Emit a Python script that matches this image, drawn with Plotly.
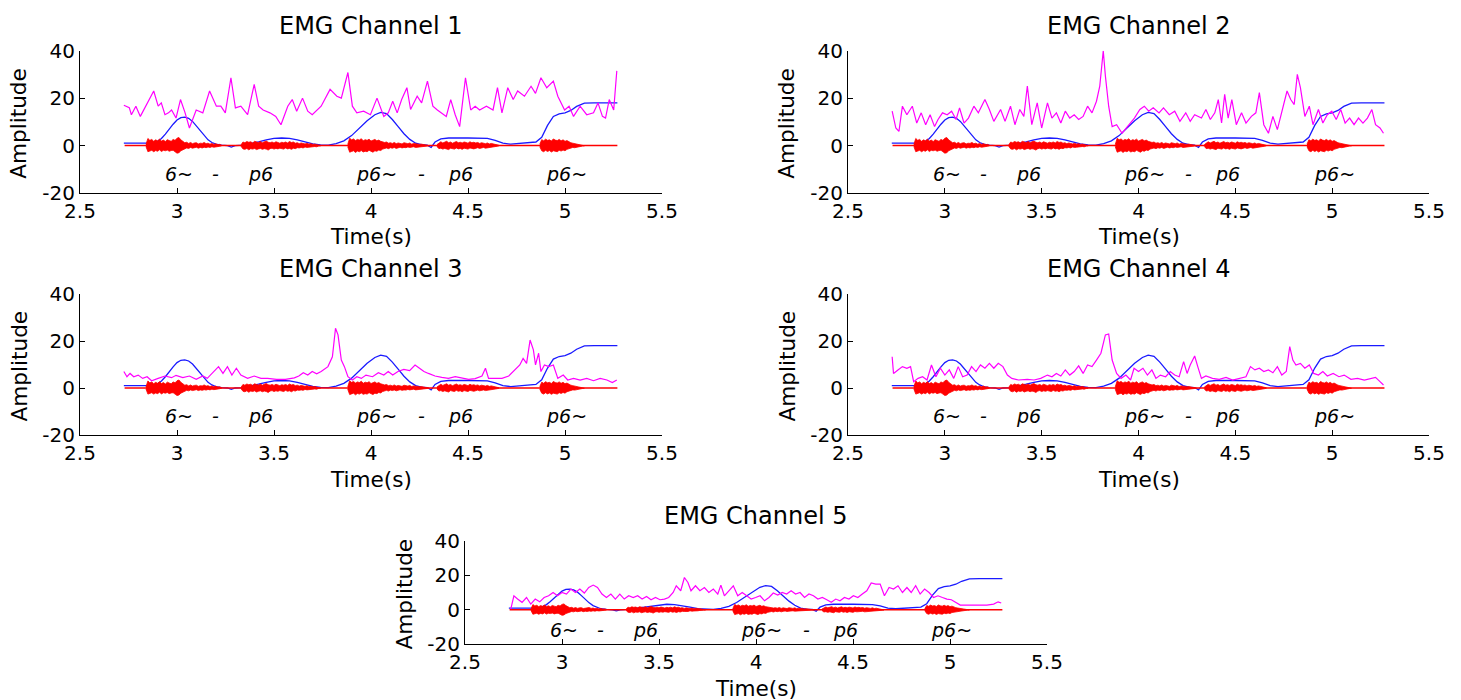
import plotly.graph_objects as go

# ---------------- data ----------------
channel_titles = ["EMG Channel 1", "EMG Channel 2", "EMG Channel 3", "EMG Channel 4", "EMG Channel 5"]
x_ticks = [2.5, 3, 3.5, 4, 4.5, 5, 5.5]
x_ticklabels = ["2.5", "3", "3.5", "4", "4.5", "5", "5.5"]
y_ticks = [-20, 0, 20, 40]
y_ticklabels = ["-20", "0", "20", "40"]

# magenta traces (time, amplitude) per channel
mag_t1 = [2.726,2.754,2.765,2.788,2.811,2.846,2.880,2.903,2.919,2.938,
          2.956,2.972,2.995,3.018,3.041,3.064,3.099,3.133,3.168,3.203,
          3.226,3.249,3.278,3.301,3.329,3.364,3.398,3.421,3.444,3.479,
          3.509,3.536,3.571,3.594,3.617,3.647,3.674,3.697,3.720,3.743,
          3.789,3.824,3.847,3.881,3.904,3.927,3.962,3.997,4.031,4.066,
          4.089,4.112,4.135,4.158,4.185,4.204,4.238,4.261,4.291,4.319,
          4.342,4.365,4.388,4.411,4.434,4.457,4.487,4.514,4.537,4.560,
          4.595,4.629,4.652,4.675,4.705,4.733,4.756,4.791,4.825,4.848,
          4.876,4.906,4.940,4.963,4.998,5.021,5.044,5.078,5.112,5.147,
          5.170,5.193,5.209,5.228,5.251,5.267]
mag_y1 = [17,16,13,16.6,12.3,18,23,16.6,18,13,
          13.8,15,11.6,19.4,14,7.4,15,13.8,23,16.6,
          16.6,13.8,28.6,15.9,16.6,13,25.8,16.6,15,13.8,
          12.3,8.8,16.6,19.4,14.5,20,14.5,13,15,16.6,
          23.7,20.8,20,30.8,16.6,13.8,14.5,13,20,12.3,
          13.8,18.7,13.8,19.4,24.4,15.2,20.8,18,27.2,16.6,
          15,13.8,12.3,19.4,13,8,28.6,15,16.6,15,
          16.6,15,24.4,13.8,24.4,19.4,23,20.8,25,22,
          28.6,24.4,27.2,20.8,15,16.6,12.3,16.6,13,13.8,
          18,12.3,11.6,19.4,15,31.5]

mag_t2 = [2.728,2.747,2.763,2.781,2.804,2.832,2.855,2.878,2.901,2.924,
          2.947,2.965,2.988,3.012,3.035,3.058,3.076,3.099,3.122,3.150,
          3.173,3.207,3.230,3.253,3.288,3.311,3.339,3.362,3.387,3.408,
          3.426,3.449,3.477,3.500,3.530,3.553,3.576,3.599,3.622,3.645,
          3.668,3.691,3.714,3.737,3.760,3.783,3.800,3.818,3.829,3.846,
          3.864,3.887,3.915,3.945,3.979,4.007,4.030,4.053,4.076,4.106,
          4.129,4.159,4.187,4.214,4.244,4.267,4.290,4.325,4.348,4.371,
          4.394,4.412,4.429,4.445,4.463,4.482,4.505,4.532,4.555,4.583,
          4.606,4.624,4.647,4.671,4.694,4.717,4.744,4.767,4.786,4.804,
          4.820,4.836,4.859,4.882,4.901,4.929,4.952,4.975,4.998,5.021,
          5.044,5.067,5.090,5.113,5.136,5.159,5.182,5.205,5.224,5.247,
          5.265]
mag_y2 = [14.5,7.4,6,16.6,13,16.6,9.5,13.8,8.8,13,
          8,11,13.8,13,14.5,11,15.9,9.5,11.6,16.6,
          13.8,19.4,15.2,10.2,15.2,10.2,16.6,8.8,15.2,12.3,
          25.1,8.8,18,7.4,18,11.6,13.8,9.5,14.5,11.6,
          13,11,12.3,16.6,13.8,18.7,25.1,40,29.4,16.6,
          8,8.8,5.2,8,11.6,15.2,16.6,14.5,15.9,13.8,
          15.9,13,14.5,10.2,13.8,10.2,13,11.6,15.2,11,
          13.8,19.4,9.5,21.6,11.6,19.4,8.8,13.8,9.5,12.3,
          13.8,22.3,8.8,5.2,12.3,6.7,15.2,23,19.4,17.3,
          30,24.4,12.3,16.6,8.8,15.2,9.5,13,14.5,11,
          15.2,9.5,11.6,8.8,11.6,9.5,11.6,15.2,8.8,7.4,
          5.2]

mag_t3 = [2.726,2.742,2.758,2.777,2.800,2.823,2.846,2.869,2.903,2.938,
          2.972,2.995,3.030,3.064,3.099,3.133,3.156,3.191,3.214,3.237,
          3.260,3.283,3.306,3.329,3.364,3.398,3.433,3.467,3.513,3.559,
          3.605,3.628,3.651,3.674,3.697,3.720,3.743,3.778,3.801,3.817,
          3.830,3.847,3.863,3.881,3.904,3.927,3.950,3.974,4.008,4.038,
          4.066,4.089,4.112,4.139,4.169,4.199,4.227,4.250,4.273,4.296,
          4.330,4.365,4.399,4.434,4.468,4.503,4.537,4.572,4.590,4.606,
          4.641,4.675,4.710,4.744,4.767,4.784,4.802,4.820,4.837,4.848,
          4.864,4.876,4.894,4.917,4.940,4.963,4.991,5.014,5.044,5.078,
          5.112,5.147,5.181,5.216,5.244,5.267]
mag_y3 = [7,4.8,6.2,4.8,5.5,4.1,4.8,3.1,4.1,5.1,
          4.4,5.4,4.4,5.1,3.7,5.1,4.1,7,9.1,6.2,
          9.1,5.5,8.4,5.5,4.1,5.1,4.1,4.1,3.7,3.7,
          4.3,5.1,6.5,5.5,7,6,7,9.1,13.3,25.4,
          22.6,11.9,9.1,4.8,3.4,4.8,4.1,5.5,4.8,6.5,
          5.5,7,5.5,7,7.9,7.4,9.8,8.4,7,6.2,
          5.1,4.5,4.1,4.8,4.1,3.7,4,5.1,8.4,4.1,
          4.1,4.1,5.1,7.7,9.8,12.6,10.5,20.4,16.2,9.8,
          14.8,7,9.8,9.1,9.8,4.1,5.5,3.4,4.1,3.4,
          4.1,3.1,4.1,3.4,2.3,3.4]

mag_t4 = [2.728,2.735,2.758,2.781,2.804,2.823,2.839,2.862,2.885,2.908,
          2.931,2.954,2.977,3.000,3.023,3.046,3.069,3.092,3.115,3.138,
          3.161,3.184,3.207,3.230,3.253,3.276,3.300,3.323,3.346,3.380,
          3.426,3.461,3.495,3.530,3.553,3.576,3.599,3.622,3.645,3.668,
          3.691,3.714,3.737,3.760,3.783,3.806,3.829,3.846,3.864,3.887,
          3.910,3.935,3.959,3.977,4.000,4.023,4.046,4.069,4.090,4.113,
          4.140,4.164,4.187,4.210,4.233,4.251,4.267,4.290,4.306,4.325,
          4.348,4.382,4.417,4.452,4.486,4.521,4.555,4.578,4.601,4.624,
          4.647,4.671,4.694,4.717,4.740,4.763,4.781,4.797,4.813,4.836,
          4.859,4.882,4.905,4.929,4.952,4.975,5.005,5.035,5.062,5.097,
          5.131,5.166,5.200,5.224,5.247,5.265]
mag_y4 = [13.3,6.2,7.7,9.1,8.4,9.1,2.7,4.1,4.8,3.4,
          9.8,4.8,8.4,5.5,7.7,4.1,9.1,4.8,5.5,9.1,
          7,9.8,8.4,10.5,8.4,10.5,9.1,5.5,4.1,3.4,
          3.7,3.4,4.1,5.5,4.8,6.2,5.1,7.7,5.5,7,
          9.4,6.2,9.8,9.1,11.9,14.8,22.6,23,11.9,6.2,
          4.1,5.5,3.4,8.4,7,8.4,5.5,7.7,4.1,5.5,
          4.8,7,5.5,4.8,11.2,6.2,9.8,13.6,9.1,4.1,
          5.1,4.1,3.7,4.5,3.4,4.1,4.8,9.1,7.7,8.4,
          7,7.7,6.5,9.1,5.5,7,17.6,11.9,9.8,10.5,
          8.4,9.8,6.2,5.5,7,5.1,6.2,4.8,5.5,3.7,
          4.1,3.4,4.1,4.5,2.7,1.3]

mag_t5 = [2.736,2.752,2.771,2.794,2.817,2.839,2.862,2.885,2.908,2.931,
          2.954,2.977,3.000,3.023,3.046,3.069,3.092,3.115,3.138,3.161,
          3.183,3.206,3.229,3.252,3.275,3.298,3.321,3.344,3.367,3.390,
          3.413,3.436,3.459,3.482,3.505,3.528,3.550,3.573,3.589,3.612,
          3.631,3.649,3.665,3.688,3.711,3.734,3.757,3.780,3.803,3.819,
          3.837,3.860,3.883,3.906,3.929,3.952,3.975,3.998,4.021,4.044,
          4.067,4.089,4.112,4.135,4.158,4.181,4.204,4.227,4.250,4.273,
          4.296,4.319,4.342,4.365,4.388,4.411,4.433,4.456,4.479,4.502,
          4.525,4.548,4.571,4.594,4.617,4.640,4.662,4.686,4.709,4.732,
          4.755,4.778,4.800,4.823,4.846,4.869,4.892,4.915,4.938,4.961,
          4.984,5.007,5.030,5.053,5.099,5.145,5.190,5.225,5.248,5.264]
mag_y5 = [0.4,8.1,6.2,4.3,7.1,3.3,6.2,4.6,7.1,8.1,
          10,8.1,10,9.1,12,10,12,9.7,12.9,14.3,
          12.9,9.1,7.1,9.1,6.2,9.1,6.2,8.1,7.1,8.1,
          6.2,7.7,5.8,7.1,5.8,6.2,7.1,10,13.9,11,
          18.7,15.8,11,13.9,11,12.9,10,12,9.1,14.3,
          8.1,11,13.9,8.1,10,8.1,6.2,7.1,8.1,5.2,
          7.1,9.7,8.5,10,9.1,11,9.1,10,7.1,9.1,
          8.1,6.2,7.1,5.8,4.3,6.2,5.2,7.1,6.2,8.1,
          7.1,9.1,11,15.5,14.9,14.9,8.1,12.9,12,13.9,
          10,12.9,10,13.9,9.1,12,10,7.1,8.1,7.1,
          6.2,5.8,4.3,2.7,2.7,2.7,2.7,3.3,4.6,3.9]

magenta_t = [mag_t1, mag_t2, mag_t3, mag_t4, mag_t5]
magenta_y = [mag_y1, mag_y2, mag_y3, mag_y4, mag_y5]

# blue smoothed envelope (same in every channel)
blue_t = [2.726,2.88,2.90,2.92,2.94,2.96,2.98,3.00,3.02,3.04,
          3.06,3.08,3.10,3.12,3.14,3.16,3.18,3.20,3.23,3.26,
          3.28,3.30,3.34,3.38,3.42,3.46,3.50,3.54,3.58,3.62,
          3.66,3.70,3.74,3.78,3.82,3.86,3.90,3.94,3.98,4.02,
          4.05,4.08,4.11,4.14,4.17,4.20,4.23,4.26,4.29,4.31,
          4.33,4.36,4.40,4.50,4.56,4.60,4.64,4.68,4.72,4.80,
          4.85,4.88,4.91,4.94,4.97,5.00,5.03,5.06,5.08,5.10,
          5.15,5.27]
blue_y = [1.0,1.0,1.8,3.0,4.8,7.0,9.0,10.8,11.8,12.0,
          11.5,10.2,8.2,6.0,4.0,2.4,1.3,0.6,0.2,0.0,
          -0.6,0.0,0.2,0.8,1.6,2.4,3.0,3.2,3.0,2.4,
          1.5,0.7,0.3,0.2,0.8,2.0,4.2,7.2,10.5,13.0,
          14.0,13.5,11.0,8.0,5.0,2.6,1.0,0.4,0.2,-0.8,
          1.5,2.8,3.2,3.2,3.2,3.0,2.2,1.0,0.6,1.0,
          1.5,3.5,8.5,12.3,13.4,13.8,14.8,16.5,17.2,17.9,
          18.0,18.0]

# red raw EMG: baseline and bursts (upper / lower envelope, sampled every 0.01 s)
red_base_t = [2.73, 5.27]
red_base_y = [0, 0]
burst_start = [2.84, 3.33, 3.88, 4.34, 4.87]
burst_hi = [
    [0.5,3.0,2.2,2.6,1.8,2.4,2.0,2.7,1.9,2.3,1.7,2.5,2.1,1.8,2.6,2.2,3.1,3.4,2.4,1.6,
     1.2,1.4,0.9,1.3,0.8,1.1,1.2,0.7,1.0,0.9,1.3,0.8,1.0,0.6,0.9,0.5,0.8,0.4,0.5,0.1],
    [0.3,1.5,1.2,1.7,1.4,1.6,1.1,1.8,1.5,1.3,1.7,1.2,1.6,1.9,1.4,1.2,1.5,1.1,1.6,1.3,
     1.0,1.4,1.2,1.5,1.1,1.7,1.3,1.5,1.0,1.2,0.8,1.1,0.9,0.7,1.0,0.6,0.8,0.5,0.6,0.4,0.3,0.1],
    [0.5,3.1,2.4,2.8,2.1,2.6,2.3,2.9,2.0,2.5,2.2,2.7,1.9,2.4,2.6,2.0,2.3,1.8,1.6,1.3,
     1.5,1.0,1.2,0.9,1.3,0.8,1.1,1.0,0.7,1.2,0.9,0.8,1.1,0.6,0.9,0.7,0.8,0.5,0.6,0.4,0.5,0.3,0.1],
    [0.4,1.2,1.6,1.1,1.4,1.8,1.2,1.5,1.0,1.3,1.7,1.2,1.4,1.1,1.5,1.3,1.0,1.6,1.2,1.4,
     1.1,1.3,0.9,1.2,1.0,0.8,1.1,0.7,0.9,0.6,0.5,0.3,0.1],
    [0.6,2.5,2.0,2.7,2.2,2.4,1.9,2.8,2.3,2.1,2.6,2.0,2.4,1.8,2.1,1.5,1.2,1.0,0.8,0.9,
     0.6,0.5,0.3,0.1],
]
burst_lo = [
    [-0.4,-2.6,-2.3,-2.0,-2.6,-2.1,-2.4,-1.8,-2.5,-2.0,-2.2,-1.9,-2.4,-2.1,-2.0,-2.6,-3.2,-3.0,-2.2,-1.8,
     -1.3,-1.0,-1.2,-0.8,-1.1,-0.9,-0.7,-1.1,-0.8,-1.0,-0.7,-0.9,-0.6,-0.8,-0.5,-0.7,-0.4,-0.5,-0.3,-0.1],
    [-0.3,-1.4,-1.6,-1.2,-1.8,-1.3,-1.5,-1.2,-1.7,-1.4,-1.2,-1.6,-1.3,-1.5,-1.9,-1.3,-1.1,-1.5,-1.2,-1.4,
     -1.1,-1.3,-1.5,-1.0,-1.4,-1.2,-1.6,-1.1,-1.3,-0.9,-1.0,-0.8,-1.0,-0.6,-0.8,-0.7,-0.5,-0.6,-0.4,-0.5,-0.2,-0.1],
    [-0.5,-2.8,-2.5,-2.2,-2.9,-2.3,-2.6,-2.1,-2.7,-2.4,-2.6,-2.0,-2.5,-2.8,-2.2,-2.4,-1.9,-2.1,-1.5,-1.2,
     -1.0,-1.3,-0.9,-1.1,-0.8,-1.2,-0.9,-0.7,-1.0,-0.8,-0.9,-0.6,-0.8,-0.7,-0.5,-0.8,-0.6,-0.4,-0.5,-0.3,-0.3,-0.2,-0.1],
    [-0.4,-1.3,-1.1,-1.5,-1.2,-1.4,-1.7,-1.1,-1.3,-1.5,-1.0,-1.4,-1.2,-1.6,-1.1,-1.3,-1.5,-1.0,-1.2,-1.4,
     -1.1,-0.9,-1.2,-1.0,-0.8,-1.1,-0.7,-0.9,-0.6,-0.7,-0.4,-0.3,-0.1],
    [-0.5,-2.2,-2.6,-2.0,-2.5,-2.1,-2.7,-2.2,-2.4,-2.6,-2.0,-2.3,-1.9,-2.2,-1.6,-1.3,-1.0,-0.8,-0.9,-0.6,
     -0.5,-0.4,-0.2,-0.1],
]
burst_step = 0.01

# phase labels under the signals
label_text = ["6~", "-", "p6", "p6~", "-", "p6", "p6~"]
label_t = [3.01, 3.20, 3.43, 4.03, 4.26, 4.46, 5.01]
label_y = -11.8

# ---------------- layout geometry (pixels) ----------------
W, H = 1461, 700
panels = [
    (80.0, 662.0, 50.7, 193.0),
    (848.0, 1429.0, 50.7, 193.0),
    (80.0, 662.0, 294.0, 435.0),
    (848.0, 1429.0, 294.0, 435.0),
    (465.0, 1047.0, 540.7, 644.3),
]

def fx(px):
    return px / W

def fy(py):
    return 1 - py / H

FONT = "DejaVu Sans, Verdana, sans-serif"
FS_TITLE = 24
FS_AXT = 21.6
FS_TICK = 20
FS_LAB = 19

fig = go.Figure()
annotations = []

for i, (x0, x1, yt, yb) in enumerate(panels):
    n = i + 1
    xa = "x" if n == 1 else f"x{n}"
    ya = "y" if n == 1 else f"y{n}"

    # blue envelope
    fig.add_trace(go.Scatter(x=blue_t, y=blue_y, mode="lines",
                             line=dict(color="#1a1aff", width=1.3),
                             xaxis=xa, yaxis=ya, hoverinfo="skip"))
    # red bursts
    for s, hi, lo in zip(burst_start, burst_hi, burst_lo):
        tt = [s + burst_step * k for k in range(len(hi))]
        fig.add_trace(go.Scatter(x=tt + tt[::-1], y=hi + lo[::-1], mode="lines",
                                 fill="toself", fillcolor="#ff0000",
                                 line=dict(color="#ff0000", width=0.8),
                                 xaxis=xa, yaxis=ya, hoverinfo="skip"))
    fig.add_trace(go.Scatter(x=red_base_t, y=red_base_y, mode="lines",
                             line=dict(color="#ff0000", width=1.5),
                             xaxis=xa, yaxis=ya, hoverinfo="skip"))
    # magenta signal
    fig.add_trace(go.Scatter(x=magenta_t[i], y=magenta_y[i], mode="lines",
                             line=dict(color="#ff00ff", width=1.2),
                             xaxis=xa, yaxis=ya, hoverinfo="skip"))

    axcommon = dict(showline=True, linecolor="black", linewidth=1, ticks="inside",
                    ticklen=5, tickcolor="black", showgrid=False, zeroline=False,
                    automargin=False,
                    tickfont=dict(family=FONT, size=FS_TICK, color="black"), fixedrange=True)
    fig.update_layout(**{
        ("xaxis" if n == 1 else f"xaxis{n}"): dict(
            domain=[fx(x0), fx(x1)], range=[2.5, 5.5], anchor=ya,
            tickvals=x_ticks, ticktext=x_ticklabels, **axcommon),
        ("yaxis" if n == 1 else f"yaxis{n}"): dict(
            domain=[fy(yb), fy(yt)], range=[-20, 40], anchor=xa,
            tickvals=y_ticks, ticktext=y_ticklabels, **axcommon),
    })

    cx = (x0 + x1) / 2
    cy = (yt + yb) / 2
    annotations.append(dict(text=channel_titles[i], x=fx(cx), y=fy(yt - 25), xref="paper", yref="paper",
                            showarrow=False, xanchor="center", yanchor="middle",
                            font=dict(family=FONT, size=FS_TITLE, color="black")))
    annotations.append(dict(text="Time(s)", x=fx(cx), y=fy(yb + 44), xref="paper", yref="paper",
                            showarrow=False, xanchor="center", yanchor="middle",
                            font=dict(family=FONT, size=FS_AXT, color="black")))
    annotations.append(dict(text="Amplitude", x=fx(x0 - 61), y=fy(cy + 2), xref="paper", yref="paper",
                            showarrow=False, xanchor="center", yanchor="middle", textangle=-90,
                            font=dict(family=FONT, size=FS_AXT, color="black")))
    for lt, lx in zip(label_text, label_t):
        annotations.append(dict(text=f"<i>{lt}</i>", x=lx, y=label_y, xref=xa, yref=ya,
                                showarrow=False, xanchor="center", yanchor="middle",
                                font=dict(family=FONT, size=FS_LAB, color="black")))

fig.update_layout(width=W, height=H, margin=dict(l=0, r=0, t=0, b=0, autoexpand=False),
                  paper_bgcolor="white", plot_bgcolor="white", showlegend=False,
                  annotations=annotations)

fig.write_html("out.html", config={"displayModeBar": False},
               post_script="document.body.style.margin='0';document.body.style.overflow='hidden';")
